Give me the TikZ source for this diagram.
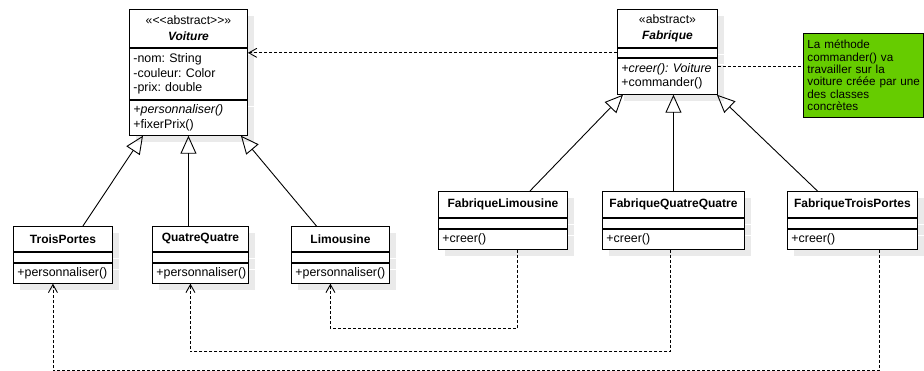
\documentclass[tikz,border=0pt]{standalone}
\usepackage{fontspec}
\setmainfont{Liberation Sans}[Ligatures=TeXOff]
\usepackage{xcolor}
\usepackage{tikz}
\usetikzlibrary{positioning, arrows.meta, shadows}
\frenchspacing

\definecolor{notegreen}{RGB}{102,204,0}
\definecolor{shadowgray}{RGB}{234,234,234}

\begin{document}
\begin{tikzpicture}[x=1pt, y=-1pt, node distance=0pt,
    umlbox/.style={draw, fill=white, line width=0.9pt, inner xsep=4pt, inner ysep=2pt,
        font=\fontsize{12.4}{14.3}\selectfont,
        drop shadow={shadow xshift=7pt, shadow yshift=-7pt, fill=shadowgray, opacity=1}},
    classhead/.style={umlbox, text width=#1, align=center, minimum height=25pt,
        font=\fontsize{12}{14}\selectfont\bfseries, anchor=north west},
    classattr/.style={umlbox, text width=#1, align=left, minimum height=10pt},
    classop/.style={umlbox, text width=#1, align=left, minimum height=20pt},
    inherit/.style={line width=0.9pt, -{Triangle[open, length=18pt, width=16pt]}},
    depend/.style={line width=0.9pt, dash pattern=on 3pt off 2pt,
        -{Straight Barb[length=8pt, width=9pt]}},
    notelink/.style={line width=0.9pt, dash pattern=on 3pt off 2pt},
    notebox/.style={draw, fill=notegreen, line width=0.9pt, anchor=north west,
        text width=112pt, inner xsep=4pt, minimum height=84pt, align=left,
        font=\fontsize{11.7}{12.3}\selectfont}]
        \useasboundingbox (0,0) rectangle (924,371);

        % Nodes for the cars
        \node [classhead=110pt, minimum height=38pt] (voiture) at (129,9)
            {{\mdseries\fontsize{12.2}{13}\selectfont «<<abstract>>»}\\[2pt]\textit{Voiture}};
        \node [classattr=110pt, minimum height=51pt, below=of voiture] (voitureattr)
            {-nom: String\\-couleur: Color\\-prix: double};
        \node [classop=110pt, minimum height=35pt, below=of voitureattr] (voitureop)
            {\textit{+personnaliser()}\\+fixerPrix()};

        \node [classhead=91pt] (troisportes) at (13,226) {TroisPortes};
        \node [classattr=91pt, below=of troisportes] (troisportesattr) {};
        \node [classop=91pt, below=of troisportesattr] (troisportesop) {+personnaliser()};

        \node [classhead=88pt] (quatrequatre) at (152,226) {QuatreQuatre};
        \node [classattr=88pt, below=of quatrequatre] (quatrequatreattr) {};
        \node [classop=88pt, below=of quatrequatreattr] (quatrequatreop) {+personnaliser()};

        \node [classhead=90pt] (limousine) at (291,226) {Limousine};
        \node [classattr=90pt, below=of limousine] (limousineattr) {};
        \node [classop=90pt, below=of limousineattr] (limousineop) {+personnaliser()};

        % Nodes for the factories
        \node [classhead=92pt, minimum height=38pt] (fabrique) at (617,9)
            {{\mdseries\fontsize{12.2}{13}\selectfont «abstract»}\\[2pt]\textit{Fabrique}};
        \node [classattr=92pt, minimum height=9pt, below=of fabrique] (fabriqueattr) {};
        \node [classop=92pt, minimum height=36pt, below=of fabriqueattr] (fabriqueop)
            {\textit{+creer(): Voiture}\\+commander()};

        \node [classhead=121pt, minimum height=26pt] (fablimousine) at (438,191) {FabriqueLimousine};
        \node [classattr=121pt, below=of fablimousine] (fablimousineattr) {};
        \node [classop=121pt, below=of fablimousineattr] (fablimousineop) {+creer()};

        \node [classhead=134pt, minimum height=26pt] (fabquatre) at (602,191) {FabriqueQuatreQuatre};
        \node [classattr=134pt, below=of fabquatre] (fabquatreattr) {};
        \node [classop=134pt, below=of fabquatreattr] (fabquatreop) {+creer()};

        \node [classhead=122pt, minimum height=26pt] (fabtrois) at (787,191) {FabriqueTroisPortes};
        \node [classattr=122pt, below=of fabtrois] (fabtroisattr) {};
        \node [classop=122pt, below=of fabtroisattr] (fabtroisop) {+creer()};

        % Note
        \node [notebox] (note) at (803,33)
            {La méthode\\commander() va\\travailler sur la\\\mbox{voiture créée par une}\\des classes\\concrètes};

        % Arrows for inheritance
        \draw [inherit] ([xshift=20pt]troisportes.north) -- ([xshift=14pt]voitureop.south west);
        \draw [inherit] (voitureop.south |- quatrequatre.north) -- (voitureop.south);
        \draw [inherit] ([xshift=-24pt]limousine.north) -- ([xshift=-7pt]voitureop.south east);
        \draw [inherit] ([xshift=27pt]fablimousine.north) -- ([xshift=6pt]fabriqueop.south west);
        \draw [inherit] (fabquatre.north) -- (fabquatre.north |- fabriqueop.south);
        \draw [inherit] ([xshift=-35pt]fabtrois.north) -- ([xshift=-1pt]fabriqueop.south east);

        % Dependencies
        \draw [depend] (fabriqueattr.west) -- (fabriqueattr.west -| voitureattr.east);
        \draw [notelink] ([yshift=10pt]fabriqueop.east) coordinate (notestart) -- (notestart -| note.west);
        \draw [depend] ([xshift=14pt]fablimousineop.south) -- ++(0,79) -| ([xshift=-10pt]limousineop.south);
        \draw [depend] ([xshift=-3pt]fabquatreop.south) -- ++(0,102) -| ([xshift=-10pt]quatrequatreop.south);
        \draw [depend] ([xshift=27pt]fabtroisop.south) -- ++(0,121) -| ([xshift=-10pt]troisportesop.south);
    \end{tikzpicture}
\end{document}
